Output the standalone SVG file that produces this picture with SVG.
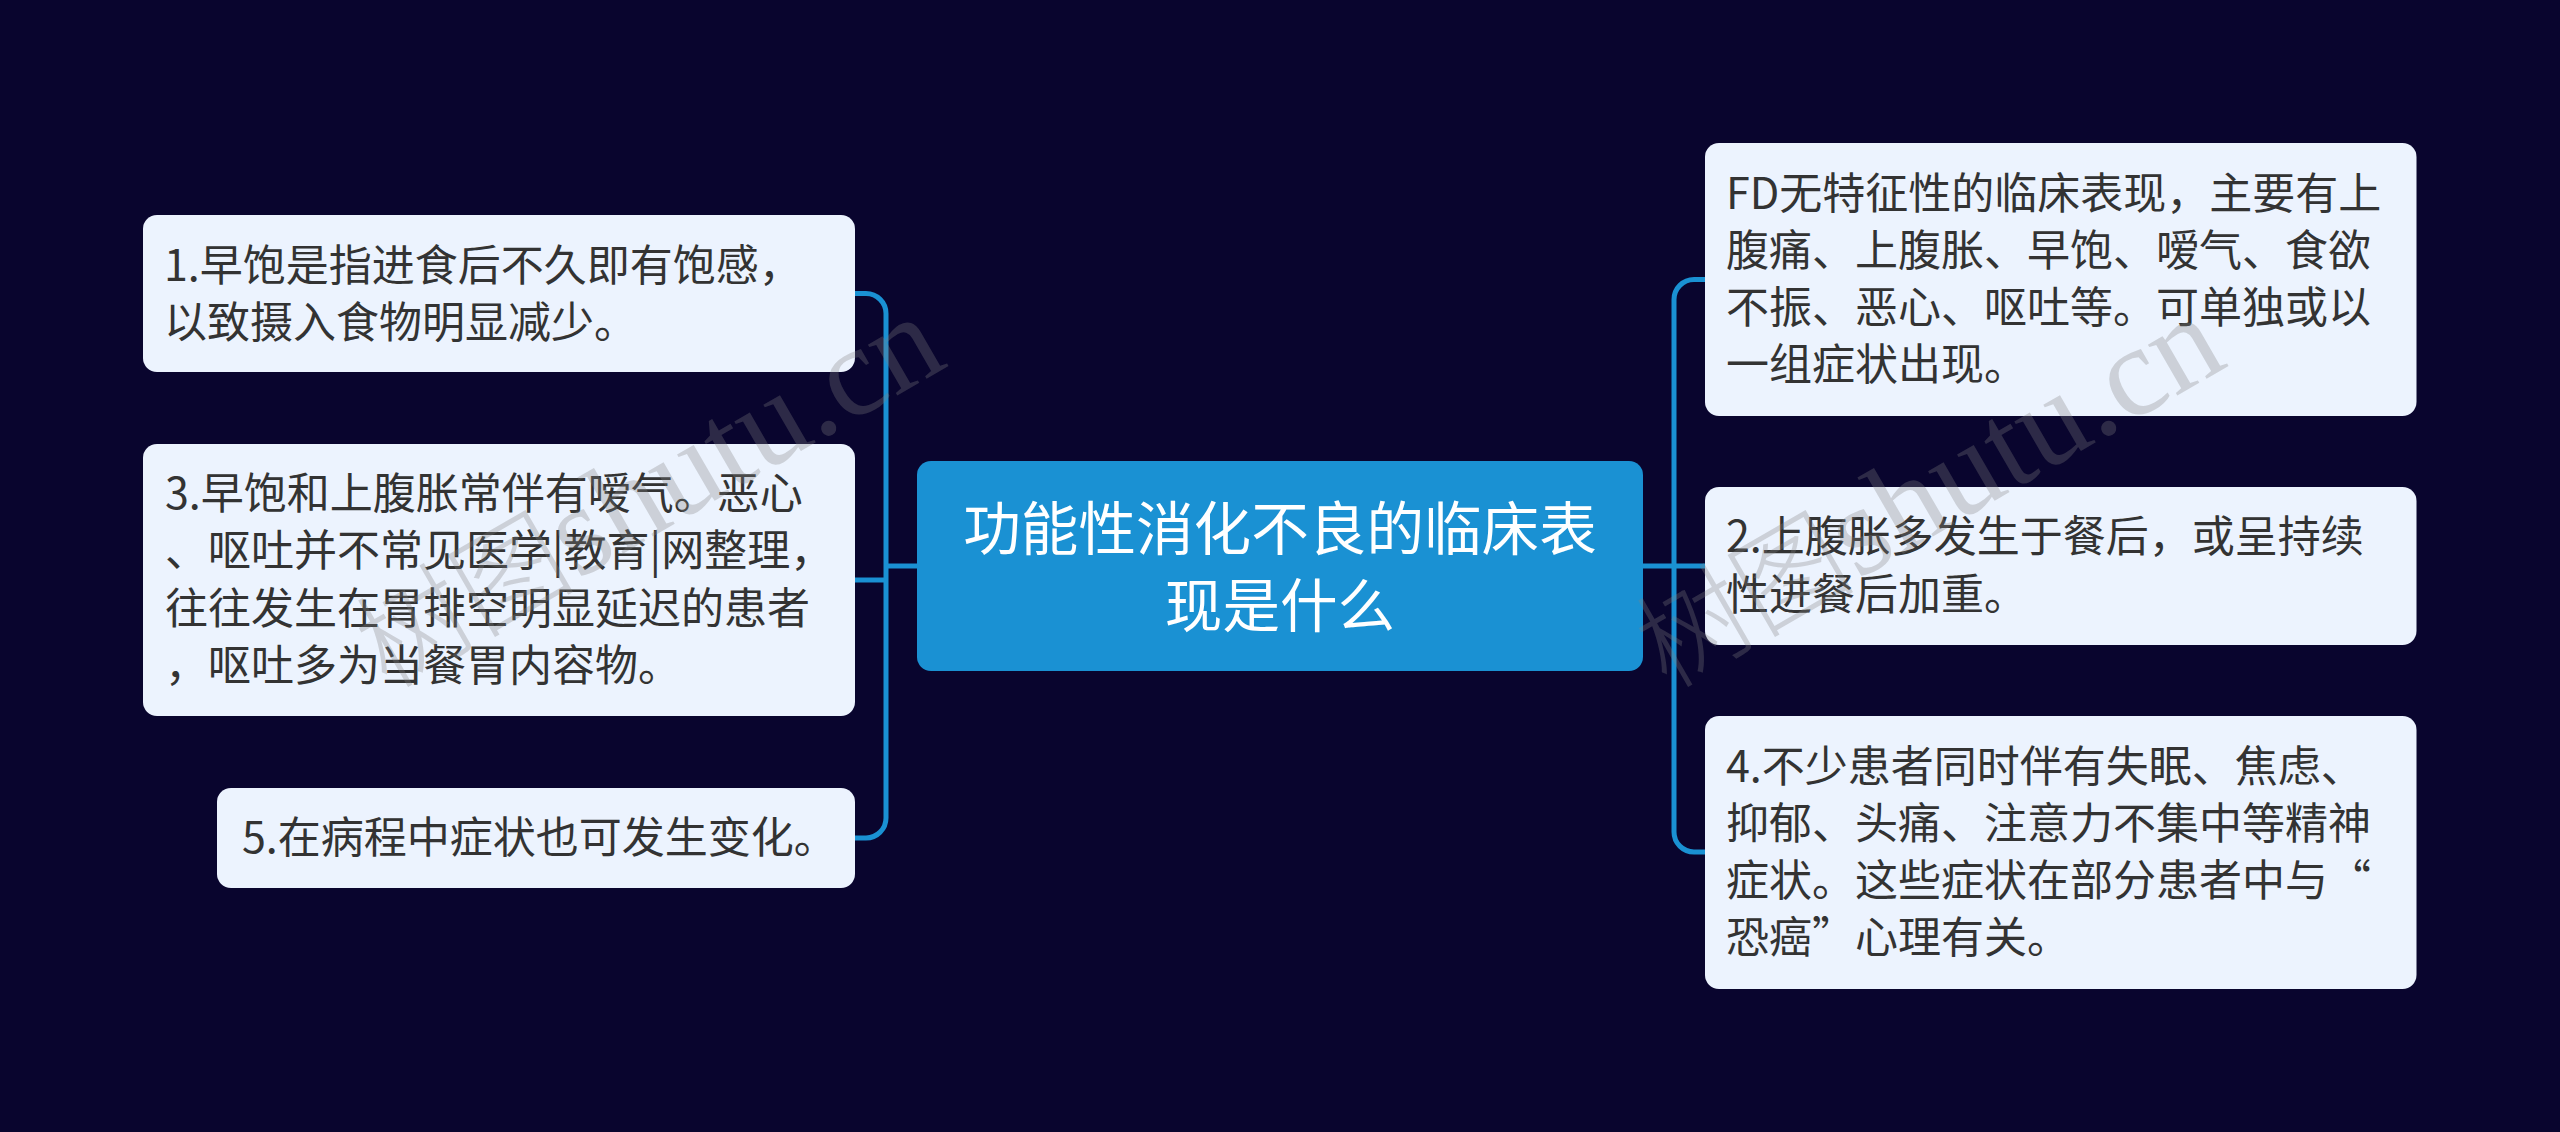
<svg xmlns="http://www.w3.org/2000/svg" width="2560" height="1132" viewBox="0 0 2560 1132">
<style>
.bg{fill:#09052e}
.n{fill:#ecf3fe}
.c{fill:#1a91d3}
.t{font-family:"Noto Sans CJK SC","Liberation Sans",sans-serif;font-size:43px;fill:#333;font-weight:400}
.h{font-family:"Noto Sans CJK SC","Liberation Sans",sans-serif;font-size:57.6px;fill:#fff;text-anchor:middle;font-weight:400}
.l{fill:none;stroke:#1a91d3;stroke-width:5}
.w{font-family:"Liberation Serif","Noto Sans CJK SC",serif;font-size:128px;fill:#808080;fill-opacity:.3}
.wc{font-size:110px;font-weight:300}
</style>
<rect class="bg" width="2560" height="1132"/>
<g id="connectors">
<path class="l" d="M917 566H886"/>
<path class="l" d="M855 293.500H866a20 20 0 0 1 20 20V818a20 20 0 0 1-20 20H855"/>
<path class="l" d="M855 580H886"/>
<path class="l" d="M1643 566H1705"/>
<path class="l" d="M1705 279.500H1694a20 20 0 0 0-20 20V832a20 20 0 0 0 20 20H1705"/>
</g>
<g id="root"><rect class="c" x="917" y="461" width="726" height="210" rx="14"/>
<text class="h" x="1280" y="550">功能性消化不良的临床表</text>
<text class="h" x="1280" y="627">现是什么</text></g>
<g id="node1"><rect class="n" x="143" y="215" width="712" height="157" rx="14"/>
<text class="t" x="164" y="281">1.早饱是指进食后不久即有饱感，</text>
<text class="t" x="164" y="338">以致摄入食物明显减少。</text></g>
<g id="node3"><rect class="n" x="143" y="444" width="712" height="272" rx="14"/>
<text class="t" x="165" y="509">3.早饱和上腹胀常伴有嗳气。恶心</text>
<text class="t" x="165" y="566">、呕吐并不常见医学|教育|网整理，</text>
<text class="t" x="165" y="624">往往发生在胃排空明显延迟的患者</text>
<text class="t" x="165" y="681">，呕吐多为当餐胃内容物。</text></g>
<g id="node5"><rect class="n" x="217" y="788" width="638" height="100" rx="14"/>
<text class="t" x="242" y="853">5.在病程中症状也可发生变化。</text></g>
<g id="nodeR1"><rect class="n" x="1705" y="143" width="711.500" height="273" rx="14"/>
<text class="t" x="1726" y="209">FD无特征性的临床表现，主要有上</text>
<text class="t" x="1726" y="266">腹痛、上腹胀、早饱、嗳气、食欲</text>
<text class="t" x="1726" y="323">不振、恶心、呕吐等。可单独或以</text>
<text class="t" x="1726" y="380">一组症状出现。</text></g>
<g id="nodeR2"><rect class="n" x="1705" y="487" width="711.500" height="158" rx="14"/>
<text class="t" x="1726" y="552">2.上腹胀多发生于餐后，或呈持续</text>
<text class="t" x="1726" y="610">性进餐后加重。</text></g>
<g id="nodeR4"><rect class="n" x="1705" y="716" width="711.500" height="273" rx="14"/>
<text class="t" x="1726" y="782">4.不少患者同时伴有失眠、焦虑、</text>
<text class="t" x="1726" y="839">抑郁、头痛、注意力不集中等精神</text>
<text class="t" x="1726" y="896">症状。这些症状在部分患者中与“</text>
<text class="t" x="1726" y="953">恐癌”心理有关。</text></g>
<text class="w" transform="translate(387 690) rotate(-30)"><tspan class="wc">树图</tspan>shutu.cn</text>
<text class="w" transform="translate(1667 690) rotate(-30)"><tspan class="wc">树图</tspan>shutu.cn</text>
</svg>
